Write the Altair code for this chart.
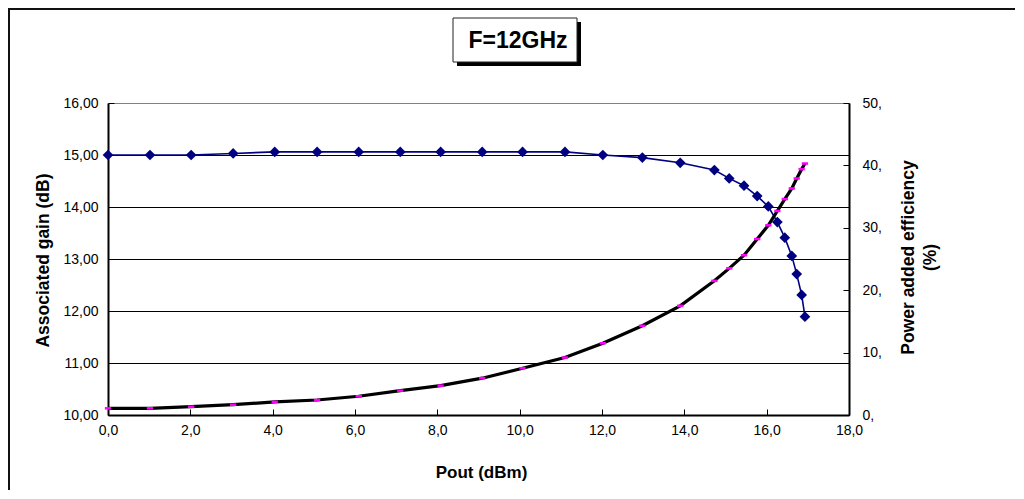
import altair as alt
import pandas as pd

# ---- data ----
pout = [0.0, 1.02, 2.02, 3.04, 4.05, 5.08, 6.09, 7.10, 8.08, 9.09, 10.07, 11.10,
        12.02, 12.98, 13.90, 14.73, 15.09, 15.45, 15.77, 16.04, 16.26, 16.44,
        16.61, 16.73, 16.85, 16.93]
gain = [15.00, 15.00, 15.00, 15.03, 15.06, 15.06, 15.06, 15.06, 15.06, 15.06,
        15.06, 15.06, 15.00, 14.95, 14.85, 14.71, 14.55, 14.41, 14.21, 14.01,
        13.71, 13.41, 13.06, 12.71, 12.31, 11.89]
eff = [1.07, 1.07, 1.33, 1.65, 2.1, 2.4, 3.0, 3.9, 4.7, 5.9, 7.5, 9.2, 11.5,
       14.3, 17.5, 21.5, 23.5, 25.6, 28.2, 30.4, 32.7, 34.6, 36.3, 37.9, 39.4, 40.3]

gain_grid = [11, 12, 13, 14, 15]
x_ticks = [0, 2, 4, 6, 8, 10, 12, 14, 16, 18]
gain_ticks = [10, 11, 12, 13, 14, 15, 16]
eff_ticks = [0, 10, 20, 30, 40, 50]

title_text = ["F=12GHz"]
x_title = "Pout (dBm)"
gain_title = "Associated gain (dB)"
eff_title = ["Power added efficiency", "(%)"]

FONT = "Liberation Sans, Arial, Helvetica, sans-serif"
W, H = 741, 312

df = pd.DataFrame({"pout": pout, "gain": gain, "eff": eff})
grid_df = pd.DataFrame({"gain": gain_grid})
one = pd.DataFrame({"t": title_text})

x_enc = alt.X(
    "pout:Q",
    scale=alt.Scale(domain=[0, 18], nice=False, zero=False),
    axis=alt.Axis(
        orient="bottom", values=x_ticks, grid=False,
        labelExpr="replace(format(datum.value, '.1f'), '.', ',')",
        labelFlush=False, labelOverlap=False, labelFontSize=14, labelPadding=14,
        tickSize={"expr": "-6"}, domainWidth=2,
        title=x_title, titleX=373, titleY=57, titleAlign="center",
        titleBaseline="middle", titleFontSize=17, titleFontWeight="bold",
    ),
)

y_gain = alt.Y(
    "gain:Q",
    scale=alt.Scale(domain=[10, 16], nice=False, zero=False),
    axis=alt.Axis(
        orient="left", values=gain_ticks, grid=False,
        labelExpr="replace(format(datum.value, '.2f'), '.', ',')",
        labelFlush=False, labelOverlap=False, labelFontSize=14, labelPadding=16,
        tickSize={"expr": "-6"}, domainWidth=2,
        title=gain_title, titleX=-65, titleY=157, titleAngle=270,
        titleAlign="center", titleBaseline="middle",
        titleFontSize=17.5, titleFontWeight="bold",
    ),
)

y_eff = alt.Y(
    "eff:Q",
    scale=alt.Scale(domain=[0, 50], nice=False, zero=False),
    axis=alt.Axis(
        orient="right", values=eff_ticks, grid=False,
        labelExpr="format(datum.value, 'd') + ','",
        labelFlush=False, labelOverlap=False, labelFontSize=14, labelPadding=19,
        tickSize={"expr": "-6"}, domainWidth=2,
        title=eff_title, titleX=50, titleY=154, titleAngle=270,
        titleAlign="center", titleBaseline="top", titleLineHeight=22,
        titleFontSize=17.5, titleFontWeight="bold",
    ),
)

grid = alt.Chart(grid_df).mark_rule(color="black", strokeWidth=1, yOffset=0.5).encode(y=y_gain)
gline = alt.Chart(df).mark_line(color="#000080", strokeWidth=1.6).encode(x=x_enc, y=y_gain)
gpts = alt.Chart(df).mark_point(shape="diamond", filled=True, size=115,
                                color="#000080", opacity=1).encode(x=x_enc, y=y_gain)
gain_layer = alt.layer(grid, gline, gpts)

eline = alt.Chart(df).mark_line(color="black", strokeWidth=3.2).encode(x=x_enc, y=y_eff)
epts = alt.Chart(df).mark_point(shape="M-1,-0.4L1,-0.4L1,0.4L-1,0.4Z", filled=True,
                                size=40, color="#FF00FF", opacity=1).encode(x=x_enc, y=y_eff)
eff_layer = alt.layer(eline, epts)

frame_top = alt.Chart(one).mark_rule(color="#111111", strokeWidth=2).encode(
    x=alt.value(-100), x2=alt.value(910), y=alt.value(-94))
frame_left = alt.Chart(one).mark_rule(color="#111111", strokeWidth=2).encode(
    x=alt.value(-99), y=alt.value(-94), y2=alt.value(400))

shadow = alt.Chart(one).mark_rect(color="black").encode(
    x=alt.value(349), x2=alt.value(473), y=alt.value(-81), y2=alt.value(-37))
box = alt.Chart(one).mark_rect(fill="white", stroke="#222222", strokeWidth=1).encode(
    x=alt.value(345), x2=alt.value(469), y=alt.value(-85), y2=alt.value(-41))
ttext = alt.Chart(one).mark_text(font=FONT, fontSize=23, fontWeight="bold",
                                 color="black", align="center", baseline="middle").encode(
    x=alt.value(410), y=alt.value(-62), text="t:N")

chart = alt.layer(
    gain_layer, eff_layer, frame_top, frame_left, shadow, box, ttext
).resolve_scale(y="independent").properties(
    width=W, height=H,
    autosize=alt.AutoSizeParams(type="none"),
    padding={"left": 100, "top": 95, "right": 166, "bottom": 75},
    background="white",
).configure_view(
    stroke="#808080", strokeWidth=1
).configure_axis(
    labelFont=FONT, titleFont=FONT, labelColor="black", titleColor="black",
    domainColor="black", tickColor="black", tickWidth=1,
)

chart.save("out.html", embed_options={"renderer": "svg", "actions": False})
